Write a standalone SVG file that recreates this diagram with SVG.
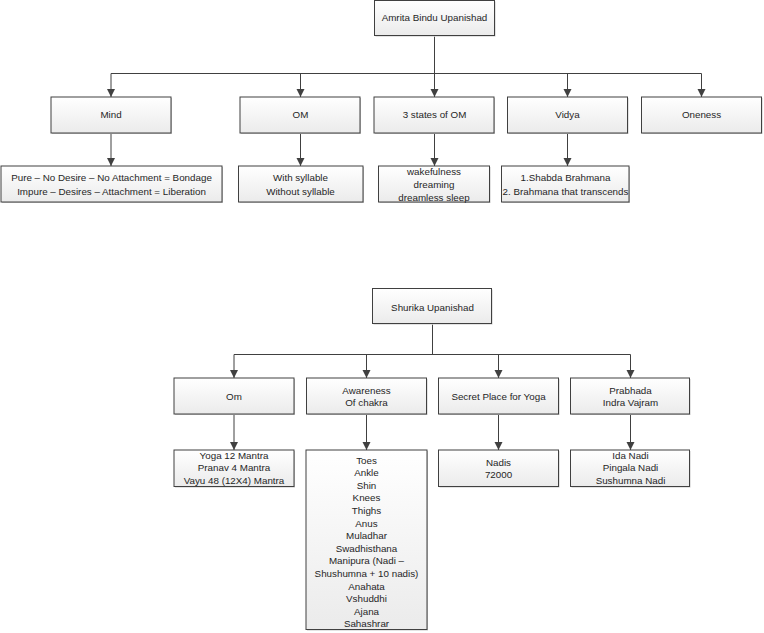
<svg xmlns="http://www.w3.org/2000/svg" width="764" height="633" viewBox="0 0 764 633">
<defs>
<linearGradient id="g" x1="0" y1="0" x2="0" y2="1">
<stop offset="0" stop-color="#ffffff"/>
<stop offset="1" stop-color="#ebebeb"/>
</linearGradient>
<marker id="ah" markerUnits="userSpaceOnUse" markerWidth="10" markerHeight="10" viewBox="0 0 10 10" refX="9" refY="5" orient="auto">
<path d="M1,1 L9,5 L1,9 Z" fill="#404040"/>
</marker>
</defs>
<style>
.b{fill:url(#g);stroke:#404040;stroke-width:1}
.s{fill:#c8c8c8}
.c{fill:none;stroke:#404040;stroke-width:1}
.a{marker-end:url(#ah)}
text{font-family:"Liberation Sans",Arial,sans-serif;font-size:9.8px;fill:#262626;text-anchor:middle}
</style>
<rect width="764" height="633" fill="#ffffff"/>
<g id="connectors">
<path class="c" d="M434.5,36.5 V73.5 M111,73.5 H701.5"/>
<path class="c a" d="M111,73.5 V97"/>
<path class="c a" d="M300.5,73.5 V97"/>
<path class="c a" d="M434.5,73.5 V97"/>
<path class="c a" d="M567.5,73.5 V97"/>
<path class="c a" d="M701.5,73.5 V97"/>
<path class="c a" d="M111,133.5 V166"/>
<path class="c a" d="M300.5,133.5 V166"/>
<path class="c a" d="M434.5,133.5 V166"/>
<path class="c a" d="M567.5,133.5 V166"/>
<path class="c" d="M432.5,324.5 V354.5 M234,354.5 H630.5"/>
<path class="c a" d="M234,354.5 V378"/>
<path class="c a" d="M366.5,354.5 V378"/>
<path class="c a" d="M498.5,354.5 V378"/>
<path class="c a" d="M630.5,354.5 V378"/>
<path class="c a" d="M234,414.5 V450"/>
<path class="c a" d="M366.5,414.5 V450"/>
<path class="c a" d="M498.5,414.5 V450"/>
<path class="c a" d="M630.5,414.5 V450"/>
</g>
<g id="amrita">
<rect class="s" x="375.5" y="1.5" width="120" height="35"/>
<rect class="b" x="374.5" y="0.5" width="120" height="35"/>
<text x="434.5" y="21">Amrita Bindu Upanishad</text>
</g>
<g id="mind">
<rect class="s" x="52" y="98" width="120" height="36"/>
<rect class="b" x="51" y="97" width="120" height="36"/>
<text x="111" y="118">Mind</text>
</g>
<g id="om1">
<rect class="s" x="241" y="98" width="120" height="36"/>
<rect class="b" x="240" y="97" width="120" height="36"/>
<text x="300.5" y="118">OM</text>
</g>
<g id="states">
<rect class="s" x="375" y="98" width="120" height="36"/>
<rect class="b" x="374" y="97" width="120" height="36"/>
<text x="434.5" y="118">3 states of OM</text>
</g>
<g id="vidya">
<rect class="s" x="508.5" y="98" width="120" height="36"/>
<rect class="b" x="507.5" y="97" width="120" height="36"/>
<text x="567.5" y="118">Vidya</text>
</g>
<g id="oneness">
<rect class="s" x="642.5" y="98" width="120" height="36"/>
<rect class="b" x="641.5" y="97" width="120" height="36"/>
<text x="701.5" y="118">Oneness</text>
</g>
<g id="mind-child">
<rect class="s" x="2" y="167" width="221" height="36"/>
<rect class="b" x="1" y="166" width="221" height="36"/>
<text x="111.5" y="181">Pure – No Desire – No Attachment = Bondage</text>
<text x="111.5" y="194.5">Impure – Desires – Attachment = Liberation</text>
</g>
<g id="om1-child">
<rect class="s" x="239.5" y="167" width="124.5" height="36"/>
<rect class="b" x="238.5" y="166" width="124.5" height="36"/>
<text x="300.5" y="181">With syllable</text>
<text x="300.5" y="194.5">Without syllable</text>
</g>
<g id="states-child">
<rect class="s" x="379.5" y="167" width="111" height="36"/>
<rect class="b" x="378.5" y="166" width="111" height="36"/>
<text x="434" y="175">wakefulness</text>
<text x="434" y="188">dreaming</text>
<text x="434" y="201">dreamless sleep</text>
</g>
<g id="vidya-child">
<rect class="s" x="502.5" y="167" width="127.5" height="36"/>
<rect class="b" x="501.5" y="166" width="127.5" height="36"/>
<text x="565.5" y="181">1.Shabda Brahmana</text>
<text x="565.5" y="194.5">2. Brahmana that transcends</text>
</g>
<g id="shurika">
<rect class="s" x="373.5" y="289.5" width="119" height="35"/>
<rect class="b" x="372.5" y="288.5" width="119" height="35"/>
<text x="432.5" y="310.5">Shurika Upanishad</text>
</g>
<g id="om2">
<rect class="s" x="175" y="379" width="120" height="36"/>
<rect class="b" x="174" y="378" width="120" height="36"/>
<text x="234" y="399.5">Om</text>
</g>
<g id="awareness">
<rect class="s" x="307.5" y="379" width="120" height="36"/>
<rect class="b" x="306.5" y="378" width="120" height="36"/>
<text x="366.5" y="393.5">Awareness</text>
<text x="366.5" y="406">Of chakra</text>
</g>
<g id="secret">
<rect class="s" x="439.5" y="379" width="120" height="36"/>
<rect class="b" x="438.5" y="378" width="120" height="36"/>
<text x="498.5" y="399.5">Secret Place for Yoga</text>
</g>
<g id="prabhada">
<rect class="s" x="571.5" y="379" width="119" height="36"/>
<rect class="b" x="570.5" y="378" width="119" height="36"/>
<text x="630.5" y="393.5">Prabhada</text>
<text x="630.5" y="406">Indra Vajram</text>
</g>
<g id="om2-child">
<rect class="s" x="175" y="451" width="120" height="36.5"/>
<rect class="b" x="174" y="450" width="120" height="36.5"/>
<text x="234" y="458.5">Yoga 12 Mantra</text>
<text x="234" y="471.2">Pranav 4 Mantra</text>
<text x="234" y="484.2">Vayu 48 (12X4) Mantra</text>
</g>
<g id="awareness-child">
<rect class="s" x="307" y="451" width="121" height="179.5"/>
<rect class="b" x="306" y="450" width="121" height="179.5"/>
<text x="366.5" y="463.5">Toes</text>
<text x="366.5" y="476.1">Ankle</text>
<text x="366.5" y="488.7">Shin</text>
<text x="366.5" y="501.3">Knees</text>
<text x="366.5" y="513.9">Thighs</text>
<text x="366.5" y="526.5">Anus</text>
<text x="366.5" y="539.1">Muladhar</text>
<text x="366.5" y="551.7">Swadhisthana</text>
<text x="366.5" y="564.3">Manipura (Nadi –</text>
<text x="366.5" y="576.9">Shushumna + 10 nadis)</text>
<text x="366.5" y="589.5">Anahata</text>
<text x="366.5" y="602.1">Vshuddhi</text>
<text x="366.5" y="614.7">Ajana</text>
<text x="366.5" y="627.3">Sahashrar</text>
</g>
<g id="secret-child">
<rect class="s" x="439.5" y="451" width="120" height="36.5"/>
<rect class="b" x="438.5" y="450" width="120" height="36.5"/>
<text x="498.5" y="465.8">Nadis</text>
<text x="498.5" y="477.5">72000</text>
</g>
<g id="prabhada-child">
<rect class="s" x="571.5" y="451" width="119" height="36.5"/>
<rect class="b" x="570.5" y="450" width="119" height="36.5"/>
<text x="630.5" y="458.5">Ida Nadi</text>
<text x="630.5" y="471.2">Pingala Nadi</text>
<text x="630.5" y="484.2">Sushumna Nadi</text>
</g>
</svg>
